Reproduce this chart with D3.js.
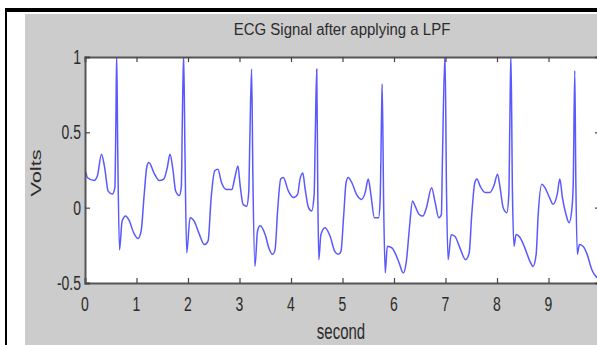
<!DOCTYPE html>
<html>
<head>
<meta charset="utf-8">
<script src="https://cdn.jsdelivr.net/npm/d3@7"></script>
<style>
  body { margin: 0; background: #fff; }
  svg { display: block; }
  text { font-family: "Liberation Sans", Arial, sans-serif; fill: #2b2b2b; }
</style>
</head>
<body>
<svg id="chart" width="597" height="345"></svg>
<script>
// signal: seconds and volts
var seconds = [0.00,0.01,0.045,0.175,0.24,0.32,0.38,0.45,0.53,0.58,0.60,0.615,0.635,0.67,0.72,0.79,0.85,0.95,1.03,1.09,
  1.15,1.20,1.24,1.34,1.44,1.53,1.60,1.65,1.71,1.76,1.83,1.87,1.89,1.915,1.94,1.975,2.04,2.12,2.21,2.32,
  2.39,2.45,2.52,2.58,2.65,2.75,2.85,2.91,2.97,3.01,3.07,3.14,3.18,3.20,3.235,3.26,3.30,3.35,3.40,3.50,
  3.57,3.64,3.69,3.74,3.80,3.85,3.95,4.05,4.13,4.17,4.23,4.27,4.34,4.40,4.45,4.47,4.50,4.52,4.54,4.58,
  4.66,4.76,4.85,4.92,4.97,5.02,5.07,5.11,5.18,5.27,5.37,5.44,5.50,5.55,5.62,5.70,5.73,5.76,5.77,5.80,
  5.83,5.87,5.96,6.02,6.10,6.18,6.24,6.30,6.36,6.41,6.49,6.56,6.63,6.73,6.80,6.87,6.92,6.94,6.99,7.02,
  7.05,7.11,7.18,7.28,7.39,7.46,7.51,7.57,7.61,7.67,7.77,7.86,7.94,8.01,8.06,8.12,8.19,8.23,8.25,8.27,
  8.30,8.33,8.37,8.45,8.54,8.64,8.70,8.76,8.80,8.87,8.93,9.02,9.09,9.17,9.22,9.27,9.34,9.40,9.45,9.48,
  9.51,9.53,9.56,9.60,9.67,9.75,9.84,9.92,10.0];
var volts = [0.13,0.24,0.20,0.18,0.21,0.355,0.27,0.11,0.09,0.135,0.58,1.02,0.40,-0.28,-0.09,-0.055,-0.08,-0.17,-0.205,-0.155,
  0.09,0.27,0.30,0.23,0.18,0.19,0.27,0.355,0.245,0.11,0.08,0.135,0.58,1.02,0.40,-0.30,-0.067,-0.09,-0.167,-0.245,
  -0.22,0.067,0.245,0.255,0.167,0.12,0.12,0.20,0.277,0.155,0.022,0.01,0.11,0.44,0.92,0.20,-0.39,-0.155,-0.12,-0.18,
  -0.267,-0.31,-0.28,-0.02,0.19,0.20,0.11,0.067,0.09,0.18,0.23,0.135,0.0,-0.022,0.09,0.45,0.92,0.10,-0.345,-0.18,
  -0.133,-0.19,-0.29,-0.31,-0.29,-0.067,0.167,0.20,0.167,0.09,0.055,0.10,0.19,0.09,-0.067,-0.067,0.045,0.645,0.82,0.0,
  -0.433,-0.256,-0.267,-0.30,-0.367,-0.433,-0.356,-0.133,0.045,0.01,-0.045,-0.056,0.0,0.133,0.033,-0.067,-0.045,0.31,1.02,0.10,
  -0.345,-0.18,-0.19,-0.267,-0.345,-0.30,-0.045,0.167,0.19,0.145,0.10,0.10,0.145,0.222,0.133,0.0,-0.033,0.09,0.58,1.02,
  0.10,-0.256,-0.178,-0.20,-0.267,-0.356,-0.39,-0.31,-0.045,0.155,0.133,0.067,0.022,0.09,0.19,0.067,-0.045,-0.10,-0.022,0.155,
  0.91,0.20,-0.31,-0.245,-0.256,-0.31,-0.41,-0.456,-0.47];

var xTicks = [0,1,2,3,4,5,6,7,8,9,10];
var xTickLabels = ["0","1","2","3","4","5","6","7","8","9",""];
var yTicks = [-0.5,0,0.5,1];
var yTickLabels = ["-0.5","0","0.5","1"];
var title = "ECG Signal after applying a LPF";
var xLabel = "second", yLabel = "Volts";

(function(){
var svg = d3.select("#chart");
var pL = 85, pR = 600, pT = 57, pB = 283;
var sy = 1.45; // the picture is stretched vertically

var x = d3.scaleLinear().domain([0,10]).range([pL,pR]);
var y = d3.scaleLinear().domain([-0.5,1]).range([pB,pT]);

// frame: black border and grey figure
svg.append("rect").attr("x",5).attr("y",8).attr("width",592).attr("height",4).attr("fill","#000");
svg.append("rect").attr("x",5).attr("y",8).attr("width",2).attr("height",337).attr("fill","#000");
svg.append("rect").attr("x",25).attr("y",14).attr("width",572).attr("height",331).attr("fill","#cccccc");

// plot area
svg.append("rect").attr("x",pL).attr("y",pT).attr("width",pR-pL).attr("height",pB-pT).attr("fill","#fff");

svg.append("clipPath").attr("id","clip").append("rect")
  .attr("x",pL).attr("y",pT).attr("width",pR-pL).attr("height",pB-pT);

var pts = seconds.map(function(t,k){ return [t, volts[k]]; });
var line = d3.line().x(function(d){ return x(d[0]); }).y(function(d){ return y(d[1]); }).curve(d3.curveMonotoneX);
svg.append("path").datum(pts).attr("clip-path","url(#clip)")
  .attr("d",line).attr("fill","none").attr("stroke","#3030ff").attr("stroke-width",1.5)
  .attr("stroke-opacity",0.8).attr("stroke-linejoin","round");

// axes, MATLAB style: ticks inside on all four sides
var tl = 5;
var bAx = svg.append("g").attr("transform","translate(0,"+pB+")")
  .call(d3.axisBottom(x).tickValues(xTicks).tickSize(-tl).tickFormat(function(){ return ""; }));
var tAx = svg.append("g").attr("transform","translate(0,"+pT+")")
  .call(d3.axisTop(x).tickValues(xTicks).tickSize(-tl).tickFormat(function(){ return ""; }));
var lAx = svg.append("g").attr("transform","translate("+pL+",0)")
  .call(d3.axisLeft(y).tickValues(yTicks).tickSize(-tl).tickFormat(function(){ return ""; }));
var rAx = svg.append("g").attr("transform","translate("+pR+",0)")
  .call(d3.axisRight(y).tickValues(yTicks).tickSize(-tl).tickFormat(function(){ return ""; }));
[bAx,tAx,lAx,rAx].forEach(function(g){
  g.select(".domain").attr("stroke","#555").attr("stroke-width",2);
  g.selectAll(".tick line").attr("stroke","#444").attr("stroke-width",1.2);
});

// tick labels
function stretched(tx, ty, s, anchor, size){
  return svg.append("text").attr("transform","translate("+tx+","+ty+") scale(1,"+sy+")")
    .attr("text-anchor",anchor).attr("font-size",size).text(s);
}
xTicks.forEach(function(t,k){ stretched(x(t), 311, xTickLabels[k], "middle", 14); });
yTicks.forEach(function(v,k){ stretched(81, y(v)+7, yTickLabels[k], "end", 14); });

// title and axis labels
svg.append("text").attr("transform","translate(342,35) scale(1,1.15)")
  .attr("text-anchor","middle").attr("font-size",15).text(title);
stretched(341, 339, xLabel, "middle", 15);
svg.append("text").attr("transform","translate(41,173) rotate(-90) scale("+sy+",1)")
  .attr("text-anchor","middle").attr("font-size",15).text(yLabel);
})();
</script>
</body>
</html>
